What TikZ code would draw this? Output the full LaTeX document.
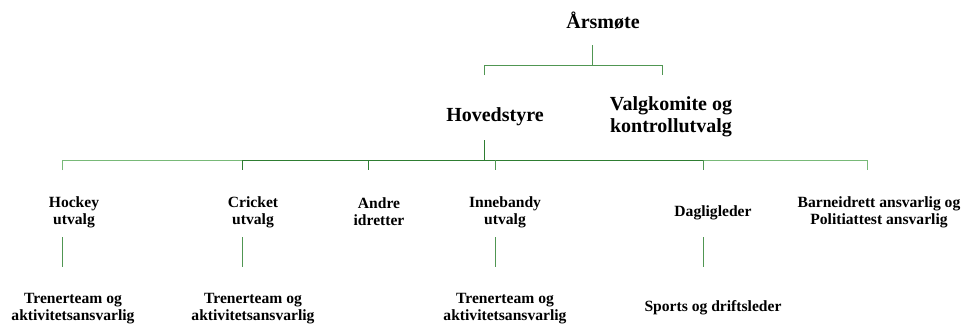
\documentclass[tikz,border=0pt]{standalone}
\usepackage{fontspec}
\setmainfont{Liberation Serif}
\definecolor{lnDark}{RGB}{46,125,50}
\definecolor{lnMid}{RGB}{80,150,82}
\definecolor{lnLight}{RGB}{120,185,120}
\begin{document}
\begin{tikzpicture}[x=1pt,y=-1pt,
  big/.style={font=\bfseries\fontsize{20}{21.5}\selectfont,align=center,inner sep=0pt},
  small/.style={font=\bfseries\fontsize{15.6}{17}\selectfont,align=center,inner sep=0pt},
  darkln/.style={draw=lnDark,line width=1pt},
  midln/.style={draw=lnMid,line width=1pt},
  lightln/.style={draw=lnLight,line width=1pt}]
\useasboundingbox (0,0) rectangle (967,332);
% nodes
\node[big] (ars) at (603,21) {Årsmøte};
\node[big] (hov) at (495,117) {Hovedstyre};
\node[big] (valg) at (671,117) {Valgkomite og\\kontrollutvalg};
\node[small] (hock) at (74,212) {Hockey\\utvalg};
\node[small] (cric) at (253,212) {Cricket\\utvalg};
\node[small] (andre) at (379,212) {Andre\\idretter};
\node[small] (inne) at (505,212) {Innebandy\\utvalg};
\node[small] (dagl) at (713,213) {Dagligleder};
\node[small] (barn) at (879,212) {Barneidrett ansvarlig og\\Politiattest ansvarlig};
\node[small] (th) at (73,309) {Trenerteam og\\aktivitetsansvarlig};
\node[small] (tc) at (253,309) {Trenerteam og\\aktivitetsansvarlig};
\node[small] (ti) at (505,309) {Trenerteam og\\aktivitetsansvarlig};
\node[small] (sp) at (713,308) {Sports og driftsleder};
% coordinates
\coordinate (a0) at (592,45);
\coordinate (a1) at (592,65);
\coordinate (aL) at (484,65);
\coordinate (aLd) at (484,75);
\coordinate (aR) at (662,65);
\coordinate (aRd) at (662,75);
\coordinate (h0) at (484,140);
\coordinate (h1) at (484,160);
\coordinate (b1) at (62,160);  \coordinate (b1d) at (62,170);
\coordinate (b2) at (242,160); \coordinate (b2d) at (242,170);
\coordinate (b3) at (368,160); \coordinate (b3d) at (368,170);
\coordinate (b4) at (495,160); \coordinate (b4d) at (495,170);
\coordinate (b5) at (703,160); \coordinate (b5d) at (703,170);
\coordinate (b6) at (867,160); \coordinate (b6d) at (867,170);
\coordinate (v1t) at (62,237);  \coordinate (v1b) at (62,267);
\coordinate (v2t) at (242,237); \coordinate (v2b) at (242,267);
\coordinate (v4t) at (495,237); \coordinate (v4b) at (495,267);
\coordinate (v5t) at (703,237); \coordinate (v5b) at (703,267);
% top tree
\draw[midln] (a0) -- (a1);
\draw[midln] (aLd) -- (aL) -- (aR) -- (aRd);
% main bus
\draw[darkln] (h0) -- (h1);
\draw[lightln] (b1d) -- (b1) -- (b2);
\draw[darkln] (b2) -- (b5);
\draw[lightln] (b5) -- (b6) -- (b6d);
\draw[darkln] (b2) -- (b2d);
\draw[darkln] (b3) -- (b3d);
\draw[midln] (b4) -- (b4d);
\draw[midln] (b5) -- (b5d);
% lower verticals
\draw[midln] (v1t) -- (v1b);
\draw[midln] (v2t) -- (v2b);
\draw[midln] (v4t) -- (v4b);
\draw[midln] (v5t) -- (v5b);
\end{tikzpicture}
\end{document}
